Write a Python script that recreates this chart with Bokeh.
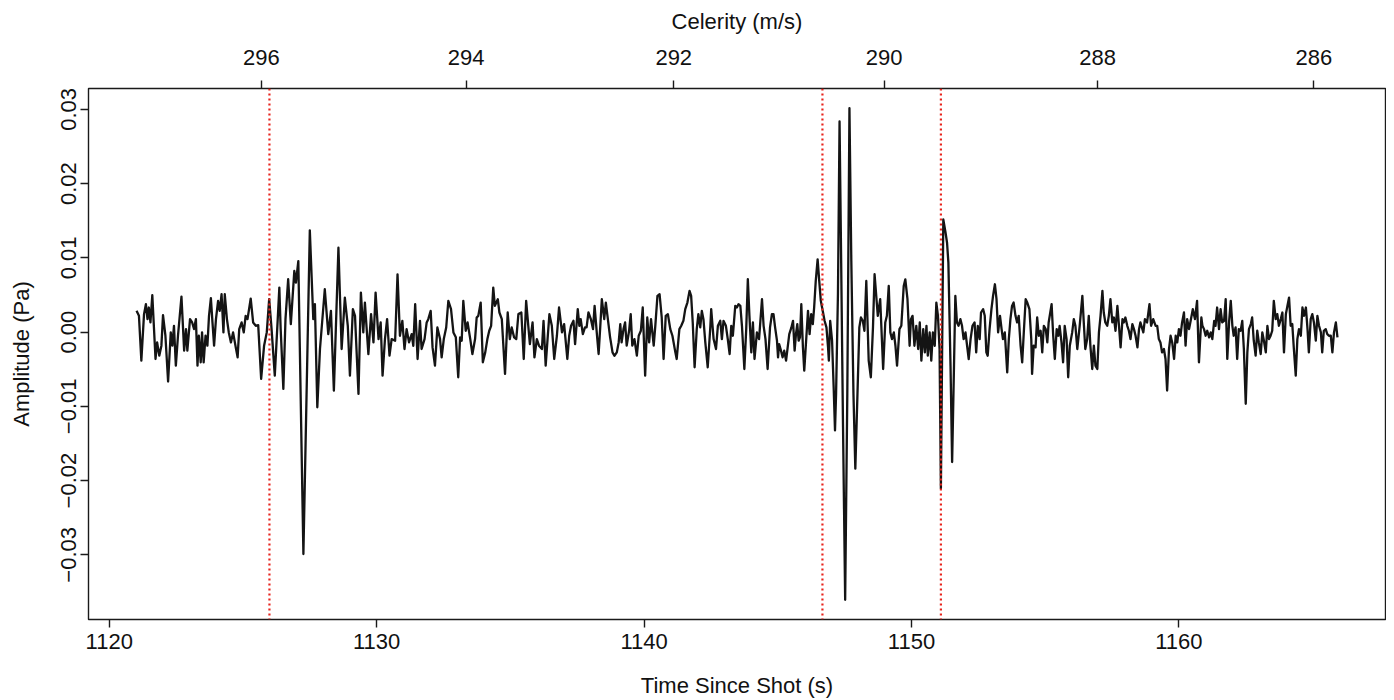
from bokeh.plotting import figure
from bokeh.models import (Range1d, LinearAxis, FixedTicker, CustomJSTickFormatter,
                          Span, ColumnDataSource)
from bokeh.embed import file_html
from bokeh.resources import INLINE

# ---------------- data: (time since shot in s, amplitude in mPa) ----------------
seg_pre = [
    (1121.02, 2.87), (1121.11, 2.19), (1121.20, -3.85), (1121.30, 2.42), (1121.37, 3.76),
    (1121.43, 1.75), (1121.48, 3.31), (1121.54, 1.30), (1121.61, 4.97), (1121.73, -3.62),
    (1121.79, -1.39), (1121.87, -3.17), (1121.95, -1.83), (1122.01, 2.28), (1122.10, -0.49),
    (1122.20, -6.66), (1122.30, -0.04), (1122.36, -1.83), (1122.42, 0.85), (1122.49, -4.52),
    (1122.57, -0.49), (1122.70, 4.79), (1122.80, -2.50), (1122.87, 0.41), (1122.92, -2.50),
    (1123.02, 1.75), (1123.10, 1.30), (1123.17, 0.41), (1123.24, 1.75), (1123.30, -4.52),
    (1123.35, -0.49), (1123.42, -4.07), (1123.47, -0.04), (1123.53, -4.07), (1123.60, -0.49),
    (1123.67, -1.83), (1123.73, 2.19), (1123.80, 4.57), (1123.86, 1.30), (1123.92, -1.83),
    (1123.99, 1.75), (1124.07, 4.21), (1124.13, 2.87), (1124.20, 5.10), (1124.27, -0.04),
    (1124.32, 5.10), (1124.40, 1.75), (1124.47, -0.04), (1124.55, -1.39), (1124.63, -0.04),
    (1124.73, -2.06), (1124.80, -3.40), (1124.86, 0.41), (1124.95, 1.30), (1125.03, -0.04),
    (1125.10, 2.19), (1125.17, 1.75), (1125.29, 4.52), (1125.38, 1.30), (1125.48, 0.85),
    (1125.57, 0.94), (1125.68, -6.31), (1125.79, -1.83), (1125.89, -0.04), (1125.98, 4.43),
    (1126.07, 0.41), (1126.19, -5.86), (1126.30, 1.75), (1126.36, 6.00), (1126.41, 0.41),
    (1126.51, -7.65), (1126.59, 1.75), (1126.69, 7.12),
]
seg_first_arrival = [
    (1126.79, 1.07), (1126.92, 8.23), (1126.98, 6.66), (1127.07, 9.57), (1127.26, -29.9),
    (1127.50, 13.7), (1127.63, 1.74), (1127.69, 3.76), (1127.78, -10.12), (1127.88, -2.28),
    (1128.06, 5.77), (1128.19, -0.27), (1128.29, 2.86), (1128.40, -7.88), (1128.57, 11.36),
    (1128.69, -2.28), (1128.81, 4.65), (1128.92, 0.85), (1129.00, -5.86), (1129.11, 3.08),
    (1129.19, 2.19), (1129.32, -8.33), (1129.41, 5.32), (1129.50, -0.05), (1129.56, 3.98),
    (1129.69, -2.96), (1129.79, 2.41), (1129.88, -1.39), (1129.96, 5.32), (1130.07, -0.94),
    (1130.15, 1.30), (1130.22, -5.86), (1130.31, -0.94), (1130.39, 1.74), (1130.48, -3.18),
    (1130.56, -0.94), (1130.69, -1.17), (1130.78, 7.78), (1130.87, -0.50), (1130.96, 1.52),
    (1131.04, -2.28), (1131.12, 0.40), (1131.21, -1.39), (1131.31, -0.27), (1131.37, -1.84),
    (1131.44, 3.76), (1131.53, -3.63), (1131.62, 1.52), (1131.68, -2.28), (1131.79, -0.94),
    (1131.87, 1.30), (1131.93, 1.74), (1132.02, 2.86), (1132.09, -2.06), (1132.18, -4.52),
    (1132.27, 0.62), (1132.37, -0.94), (1132.43, -3.40), (1132.51, -0.94), (1132.60, 0.62),
    (1132.68, 4.20),
]
seg_coda_a = [
    (1132.78, 3.09), (1132.87, -0.04), (1132.96, -0.71), (1133.05, -6.08), (1133.12, -0.71),
    (1133.18, -1.16), (1133.24, 4.21), (1133.33, 0.18), (1133.40, 1.30), (1133.50, -0.94),
    (1133.58, -2.95), (1133.68, -0.94), (1133.74, 1.97), (1133.80, 2.19), (1133.89, 3.98),
    (1133.97, -4.07), (1134.06, -2.73), (1134.14, -0.94), (1134.21, 0.18), (1134.28, 0.85),
    (1134.36, 6.00), (1134.42, 3.54), (1134.53, 4.43), (1134.59, 2.64), (1134.68, 1.75),
    (1134.80, -5.64), (1134.90, 2.64), (1134.98, -0.94), (1135.05, 0.63), (1135.14, -0.71),
    (1135.22, -0.94), (1135.30, 2.42), (1135.41, 2.64), (1135.50, -3.62), (1135.59, 4.21),
    (1135.67, 0.85), (1135.73, -1.61), (1135.83, 1.30), (1135.90, -3.40), (1135.99, -0.94),
    (1136.07, -1.83), (1136.18, -2.28), (1136.24, 1.52), (1136.32, -4.52), (1136.40, -0.49),
    (1136.46, 2.42), (1136.55, 0.85), (1136.64, -3.62), (1136.74, -0.49), (1136.82, 3.31),
    (1136.93, -0.04), (1137.01, 1.08), (1137.13, -3.62), (1137.20, -0.49), (1137.27, 0.85),
    (1137.36, 1.52), (1137.42, -1.61), (1137.52, 3.09), (1137.58, 0.85), (1137.63, 1.75),
    (1137.71, -0.27), (1137.79, 0.63), (1137.85, 0.63), (1137.92, 2.64), (1138.01, 1.75),
    (1138.09, 0.40), (1138.15, 3.54), (1138.23, -0.04), (1138.30, -2.95), (1138.36, 0.63),
    (1138.42, 4.43), (1138.51, 1.75), (1138.57, 3.98),
]
seg_coda_b = [
    (1138.73, -0.71), (1138.82, -2.73), (1138.89, -3.18), (1138.98, -2.73), (1139.05, -1.39),
    (1139.11, 1.08), (1139.16, -1.39), (1139.23, 0.40), (1139.29, 1.30), (1139.35, -1.83),
    (1139.44, 0.18), (1139.50, 2.42), (1139.56, -1.83), (1139.64, -0.94), (1139.73, -3.18),
    (1139.80, -0.49), (1139.88, 0.18), (1139.95, 3.31), (1140.04, -5.86), (1140.12, 1.97),
    (1140.19, -1.39), (1140.26, 1.75), (1140.36, -1.83), (1140.42, 0.85), (1140.50, 4.88),
    (1140.58, 5.10), (1140.66, 1.97), (1140.73, -3.62), (1140.81, 2.19), (1140.89, 2.42),
    (1140.98, 0.40), (1141.06, -0.49), (1141.17, -2.73), (1141.22, -3.62), (1141.32, 0.40),
    (1141.39, 0.85), (1141.47, 1.52), (1141.54, 3.09), (1141.62, 3.98), (1141.70, 5.55),
    (1141.76, 4.88), (1141.82, 1.30), (1141.89, -4.74), (1141.97, 0.40), (1142.03, 2.42),
    (1142.10, 0.63), (1142.16, 2.86), (1142.22, 1.75), (1142.29, -1.39), (1142.38, -4.74),
    (1142.48, 0.85), (1142.51, 3.09), (1142.60, -0.94), (1142.69, -2.28), (1142.76, 0.85),
    (1142.85, 1.52), (1142.91, -0.94), (1142.97, 1.52), (1143.06, 0.85), (1143.13, -0.94),
    (1143.20, -2.95), (1143.26, 0.85), (1143.32, -0.49), (1143.41, 3.54), (1143.47, 3.31),
    (1143.53, 3.76), (1143.60, 3.54), (1143.66, 0.85), (1143.75, -4.97), (1143.82, 0.40),
    (1143.88, 7.12), (1143.94, 2.19), (1144.01, -2.73), (1144.07, 1.30), (1144.13, -3.62),
    (1144.22, -0.04), (1144.30, -0.94), (1144.41, 4.43), (1144.47, 0.85), (1144.54, -0.94),
    (1144.62, -4.97),
]
seg_second_arrival = [
    (1144.71, 0.63), (1144.78, 2.42), (1144.84, 2.42), (1144.90, 0.63), (1144.97, -1.16),
    (1145.01, -3.40), (1145.05, -1.61), (1145.12, -2.50), (1145.18, -3.40), (1145.24, -2.50),
    (1145.31, -3.84), (1145.37, -2.05), (1145.43, -0.27), (1145.51, 0.63), (1145.57, 1.52),
    (1145.63, -2.50), (1145.68, -0.27), (1145.73, 1.08), (1145.78, -1.16), (1145.83, -0.71),
    (1145.88, 3.76), (1145.94, -2.05), (1145.99, -5.19), (1146.06, -1.16), (1146.13, 2.87),
    (1146.19, -0.27), (1146.25, 2.42), (1146.31, 1.08), (1146.36, 3.31), (1146.42, 6.89),
    (1146.49, 9.80), (1146.55, 6.89), (1146.61, 4.21), (1146.68, 2.87), (1146.75, 1.52),
    (1146.82, 0.63), (1146.88, -2.05), (1146.91, -3.84), (1146.96, 1.52), (1147.03, -1.16),
    (1147.09, -7.42), (1147.14, -13.24), (1147.18, -8.32), (1147.25, 5.10), (1147.31, 28.37),
    (1147.37, 9.58), (1147.44, -12.79), (1147.52, -36.06), (1147.60, -8.32), (1147.68, 30.16),
    (1147.75, 9.58), (1147.83, -8.32), (1147.90, -18.39), (1147.98, -8.32), (1148.05, 0.63),
    (1148.11, 1.97), (1148.18, 1.52), (1148.24, 0.18), (1148.31, 6.89), (1148.40, -3.84),
    (1148.48, -6.08), (1148.56, 0.63), (1148.62, 7.79),
]
seg_third_arrival = [
    (1148.74, 2.19), (1148.83, 4.43), (1148.94, -4.97), (1149.02, 1.30), (1149.08, 2.19),
    (1149.15, 6.22), (1149.21, -0.05), (1149.27, -0.94), (1149.34, -0.05), (1149.40, -1.84),
    (1149.46, -4.52), (1149.55, 0.40), (1149.62, 0.85), (1149.71, 6.22), (1149.77, 7.11),
    (1149.85, 4.43), (1149.93, -1.84), (1149.98, 1.74), (1150.04, 2.19), (1150.11, -1.84),
    (1150.18, 0.85), (1150.25, -2.28), (1150.31, 1.30), (1150.37, -3.85), (1150.44, 0.40),
    (1150.50, -2.73), (1150.56, 0.85), (1150.61, -3.18), (1150.68, -0.05), (1150.74, -3.85),
    (1150.80, -0.05), (1150.87, -1.84), (1150.93, 3.98), (1150.99, 2.19), (1151.05, -2.28),
    (1151.10, -21.08), (1151.19, 15.17), (1151.27, 13.50), (1151.33, 12.03), (1151.38, 9.35),
    (1151.46, -4.52), (1151.52, -17.50), (1151.59, -4.52), (1151.64, 4.87), (1151.70, 1.30),
    (1151.76, 0.85), (1151.83, 1.74), (1151.89, 0.85), (1151.95, -0.94), (1152.02, -0.05),
    (1152.08, -1.84), (1152.14, -3.63), (1152.21, -0.94), (1152.28, 0.85), (1152.36, 1.30),
    (1152.42, -2.73), (1152.48, 0.85), (1152.55, -0.94), (1152.60, 2.64), (1152.68, 3.09),
    (1152.74, 2.19), (1152.80, -2.73), (1152.85, -3.18), (1152.92, 0.40), (1152.99, 3.09),
    (1153.05, 4.87), (1153.12, 6.44), (1153.18, 4.43), (1153.24, -0.05), (1153.31, 2.19),
    (1153.37, 0.40), (1153.42, -0.94), (1153.49, -0.05), (1153.58, -5.42), (1153.64, -0.94),
    (1153.70, 1.74), (1153.76, 3.53), (1153.82, 3.98), (1153.89, 2.19), (1153.95, 1.30),
    (1154.01, 2.19), (1154.08, -1.84), (1154.14, -4.07), (1154.20, -0.05), (1154.27, 4.43),
    (1154.33, 3.98), (1154.41, 3.09), (1154.48, -0.94),
]
seg_post_a = [
    (1154.51, -5.64), (1154.57, -1.83), (1154.64, -2.06), (1154.70, 1.97), (1154.76, -0.49),
    (1154.83, 0.18), (1154.89, -2.73), (1154.95, 0.85), (1155.02, 0.40), (1155.08, -1.39),
    (1155.13, 1.30), (1155.24, 3.76), (1155.30, -0.49), (1155.36, -3.62), (1155.43, 0.40),
    (1155.49, -0.49), (1155.54, 0.85), (1155.61, -1.39), (1155.67, -4.07), (1155.73, 0.85),
    (1155.80, -0.94), (1155.86, -6.08), (1155.92, -1.83), (1156.01, -0.04), (1156.07, 1.75),
    (1156.13, 0.85), (1156.20, -2.28), (1156.29, 0.85), (1156.39, 4.88), (1156.45, 0.85),
    (1156.50, -2.28), (1156.57, -0.94), (1156.63, 2.19), (1156.69, -1.83), (1156.76, -4.97),
    (1156.82, -1.83), (1156.88, -4.52), (1156.95, -4.97), (1157.01, -0.04), (1157.07, 2.19),
    (1157.14, 5.55), (1157.19, 2.64), (1157.25, 1.30), (1157.32, 0.85), (1157.38, 2.19),
    (1157.44, 4.43), (1157.51, 1.30), (1157.57, 1.97), (1157.63, 0.18), (1157.70, 3.54),
    (1157.76, 0.85), (1157.82, -2.06), (1157.89, 1.75), (1157.94, 1.30), (1158.00, 1.97),
    (1158.07, 0.85), (1158.13, 0.18), (1158.19, -0.94), (1158.26, 1.08), (1158.32, 0.40),
    (1158.38, -0.49), (1158.45, -2.06), (1158.51, 0.40), (1158.56, 1.30), (1158.67, -0.04),
    (1158.73, 1.75), (1158.81, 1.30), (1158.90, 3.76), (1158.96, 0.85), (1159.04, 1.75),
    (1159.13, 0.85), (1159.19, 0.85), (1159.25, -0.94), (1159.31, -1.39), (1159.37, -2.73),
    (1159.44, -2.28), (1159.50, -3.62), (1159.56, -7.87), (1159.63, -2.28), (1159.69, -0.49),
    (1159.75, -1.39), (1159.82, -3.62), (1159.88, -0.49), (1159.94, -1.39), (1160.00, 0.40),
    (1160.06, -0.49), (1160.12, 1.30), (1160.19, 2.64), (1160.25, -1.83), (1160.31, 1.75),
    (1160.38, 0.40), (1160.44, 1.52), (1160.52, 3.09), (1160.60, 1.75),
]
seg_post_b = [
    (1160.68, 4.21), (1160.75, -4.07), (1160.84, 1.97), (1160.88, 0.85), (1160.94, 0.40),
    (1161.00, -0.49), (1161.06, 0.18), (1161.13, -0.71), (1161.19, -0.04), (1161.25, -0.94),
    (1161.32, 1.52), (1161.37, 0.85), (1161.43, 3.31), (1161.50, 0.40), (1161.56, 3.09),
    (1161.62, 1.30), (1161.69, 1.52), (1161.75, 4.43), (1161.81, -3.62), (1161.88, 1.52),
    (1161.94, 4.21), (1162.00, 0.85), (1162.05, -0.49), (1162.12, 0.63), (1162.18, -3.62),
    (1162.24, 0.40), (1162.31, 0.18), (1162.37, 1.52), (1162.43, -2.28), (1162.50, -9.66),
    (1162.56, -2.73), (1162.62, 0.40), (1162.69, 1.08), (1162.74, 1.97), (1162.80, -1.16),
    (1162.87, -3.18), (1162.93, 0.18), (1162.99, -1.39), (1163.06, -2.95), (1163.12, -0.04),
    (1163.18, -1.16), (1163.25, -2.73), (1163.31, 0.85), (1163.37, -0.94), (1163.43, -0.49),
    (1163.49, 0.18), (1163.55, 4.21), (1163.62, 1.75), (1163.68, 2.42), (1163.74, 0.85),
    (1163.81, 1.75), (1163.87, 2.64), (1163.93, -2.73), (1164.00, 2.42), (1164.06, 3.54),
    (1164.12, 4.65), (1164.18, 0.85), (1164.24, 1.08), (1164.30, -2.28), (1164.37, -5.86),
    (1164.43, -0.94), (1164.49, 0.40), (1164.56, -0.49), (1164.62, 3.31), (1164.68, 2.19),
    (1164.75, 3.31), (1164.81, 0.40), (1164.86, -2.73), (1164.93, 1.75), (1164.99, 2.42),
    (1165.05, 1.30), (1165.12, -1.16), (1165.18, 2.19), (1165.24, 0.85), (1165.31, -0.04),
    (1165.36, -2.73), (1165.42, 0.18), (1165.49, 0.40), (1165.55, -0.27), (1165.61, -0.49),
    (1165.68, -0.49), (1165.74, -2.73), (1165.80, -0.04), (1165.87, 1.30), (1165.93, -0.71),
]

arrival_times = [1125.99, 1146.67, 1151.10]        # red dotted picks (s)
time_ticks = [1120, 1130, 1140, 1150, 1160]
amp_ticks = [-0.03, -0.02, -0.01, 0.0, 0.01, 0.02, 0.03]
celerity_ticks = [296, 294, 292, 290, 288, 286]
source_distance_m = 333204.0                         # celerity = distance / time

# ---------------- build ----------------
segments = [seg_pre, seg_first_arrival, seg_coda_a, seg_coda_b, seg_second_arrival,
            seg_third_arrival, seg_post_a, seg_post_b]
times, amps = [], []
for seg in segments:
    for t, a in seg:
        times.append(t)
        amps.append(a * 1e-3)          # mPa -> Pa
src = ColumnDataSource(dict(t=times, amp=amps))

# R-style axis limits: data range padded by 4 % on each side
t_pad = 0.04 * (max(times) - min(times))
a_pad = 0.04 * (max(amps) - min(amps))

FONT = "Liberation Sans"
p = figure(width=1386, height=700,
           x_range=Range1d(min(times) - t_pad, max(times) + t_pad),
           y_range=Range1d(min(amps) - a_pad, max(amps) + a_pad),
           output_backend="svg", toolbar_location=None,
           x_axis_location=None, y_axis_location=None,
           min_border_left=88, min_border_right=1, min_border_top=88, min_border_bottom=77)
p.xgrid.visible = False
p.ygrid.visible = False
p.outline_line_color = "#1a1a1a"
p.outline_line_width = 1.4
p.outline_line_alpha = 1.0
p.background_fill_color = "white"
p.border_fill_color = "white"


def style(ax, label_standoff, title_standoff):
    ax.axis_line_color = None
    ax.major_tick_line_color = "#1a1a1a"
    ax.major_tick_line_width = 1.4
    ax.major_tick_out = 8
    ax.major_tick_in = 0
    ax.minor_tick_line_color = None
    ax.major_label_text_font = FONT
    ax.major_label_text_font_size = "22px"
    ax.major_label_text_color = "#111111"
    ax.major_label_standoff = label_standoff
    ax.axis_label_text_font = FONT
    ax.axis_label_text_font_size = "22px"
    ax.axis_label_text_font_style = "normal"
    ax.axis_label_text_color = "#111111"
    ax.axis_label_standoff = title_standoff


xaxis = LinearAxis(axis_label="Time Since Shot (s)", ticker=FixedTicker(ticks=time_ticks))
style(xaxis, 6, 21)
p.add_layout(xaxis, "below")

yaxis = LinearAxis(axis_label="Amplitude (Pa)", ticker=FixedTicker(ticks=amp_ticks),
                   formatter=CustomJSTickFormatter(code="""
                       const v = Math.abs(tick) < 1e-9 ? 0 : tick;
                       return (v < 0 ? "\u2212" : "") + Math.abs(v).toFixed(2);"""))
style(yaxis, 4, 25)
yaxis.major_label_orientation = "vertical"
p.add_layout(yaxis, "left")

cel_tick_times = [source_distance_m / c for c in celerity_ticks]
topaxis = LinearAxis(axis_label="Celerity (m/s)", ticker=FixedTicker(ticks=cel_tick_times),
                     formatter=CustomJSTickFormatter(
                         args=dict(dist=source_distance_m),
                         code="return Math.round(dist / tick).toString();"))
style(topaxis, 16, 13)
p.add_layout(topaxis, "above")

for at in arrival_times:
    p.add_layout(Span(location=at, dimension="height", line_color="#e8231c",
                      line_width=2.2, line_dash="2 3"))

p.line("t", "amp", source=src, line_color="#141414", line_width=2.3, line_join="round")

open("out.html", "w").write(file_html(p, INLINE))
